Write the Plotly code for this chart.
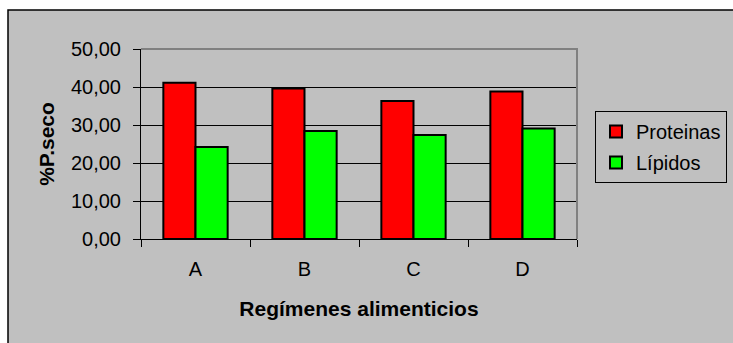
import plotly.graph_objects as go

categories = ["A", "B", "C", "D"]
proteinas = [41.1, 39.6, 36.3, 38.8]
lipidos = [24.2, 28.4, 27.4, 29.1]
y_ticks = [0, 10, 20, 30, 40, 50]
y_tick_labels = ["0,00", "10,00", "20,00", "30,00", "40,00", "50,00"]

FONT = "Liberation Sans, Arial, sans-serif"

fig = go.Figure()
fig.add_trace(go.Bar(x=categories, y=proteinas, name="Proteinas",
                     marker=dict(color="#FF0000", line=dict(color="black", width=2)),
                     legendgroup="p"))
fig.add_trace(go.Bar(x=categories, y=lipidos, name="Lípidos",
                     marker=dict(color="#00FF00", line=dict(color="black", width=2)),
                     legendgroup="l"))

L, R, T, B = 141, 156, 49, 104
pw, ph = 733 - L - R, 343 - T - B

def px(x):
    return (x - L) / pw

def py(y):
    return (343 - B - y) / ph

fig.update_layout(
    width=733, height=343,
    margin=dict(l=L, r=R, t=T, b=B, pad=0, autoexpand=False),
    paper_bgcolor="white",
    plot_bgcolor="#969696",
    barmode="group",
    bargap=0.41,
    bargroupgap=0,
    font=dict(family=FONT, size=20, color="black"),
    showlegend=True,
    legend=dict(x=px(595), y=py(111), xanchor="left", yanchor="top",
                bgcolor="#C0C0C0", bordercolor="black", borderwidth=1,
                font=dict(size=20), traceorder="grouped", tracegroupgap=2,
                itemwidth=30),
    xaxis=dict(type="category", tickson="boundaries", ticks="outside", ticklen=7,
               tickcolor="black", showline=True, linecolor="black", linewidth=1,
               showgrid=False, tickfont=dict(size=20), ticklabelstandoff=12,
               automargin=False,
               title=dict(text="<b>Regímenes alimenticios</b>", font=dict(size=21), standoff=22)),
    yaxis=dict(range=[0, 50], tickvals=y_ticks, ticktext=y_tick_labels,
               ticks="outside", ticklen=7, tickcolor="black", showline=True,
               linecolor="black", linewidth=1, showgrid=True, gridcolor="black",
               gridwidth=1, zeroline=False, tickfont=dict(size=20),
               ticklabelstandoff=8, automargin=False,
               title=dict(text="<b>%P.seco</b>", font=dict(size=21), standoff=10)),
    shapes=[
        dict(type="rect", xref="paper", yref="paper",
             x0=px(8), x1=px(745), y0=py(360), y1=py(10),
             fillcolor="#C0C0C0", line=dict(color="black", width=1.5), layer="below"),
        dict(type="path", xref="paper", yref="paper",
             path="M 0,1 L 1,1 L 1,0", line=dict(color="#808080", width=2), layer="above"),
    ],
)

fig.write_html(
    "out.html",
    config={"displayModeBar": False, "responsive": False},
    default_width="733px", default_height="343px",
    post_script="document.body.style.margin='0px';document.body.style.padding='0px';"
                "document.body.style.overflow='hidden';"
                "document.documentElement.style.overflow='hidden';",
)
